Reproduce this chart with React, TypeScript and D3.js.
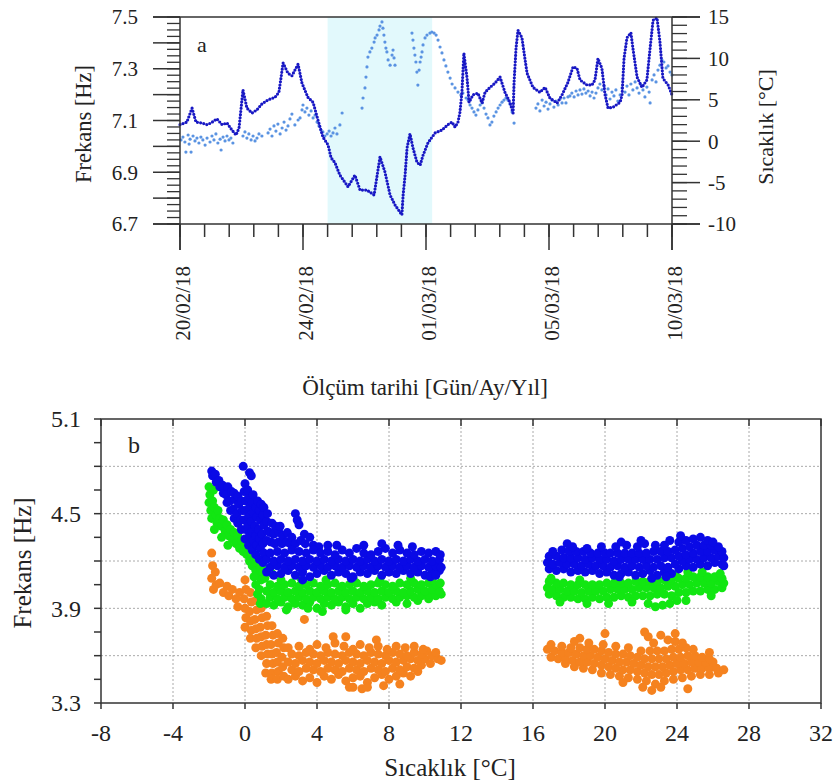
import React from "react";
import * as d3 from "d3";

// ---------- Panel (a): time series ----------
const dayTickPos = [0, 5, 10, 15, 20];
const dayTickLabels = ["20/02/18", "24/02/18", "01/03/18", "05/03/18", "10/03/18"];
const freqTickLabelsA = [6.7, 6.9, 7.1, 7.3, 7.5];
const tempTickLabelsA = [-10, -5, 0, 5, 10, 15];
const coldPeriod = [6.0, 10.25];

// temperature (°C, right axis) vs time position
const tempSeries: [number, number][] = [
  [0, 2.0], [0.28, 2.3], [0.49, 4.0], [0.65, 2.3], [0.89, 2.2], [1.1, 2.0], [1.26, 2.2], [1.5, 2.7], [1.71, 2.0], [1.91, 2.2],
  [2.11, 1.35], [2.28, 0.75], [2.4, 1.6], [2.56, 6.2], [2.72, 4.0], [2.93, 3.4], [3.13, 3.8], [3.33, 4.5], [3.58, 5.0], [3.86, 5.3],
  [4.02, 5.9], [4.11, 7.75], [4.19, 9.45], [4.39, 8.2], [4.55, 7.9], [4.8, 9.3], [4.96, 7.0], [5.2, 5.3], [5.41, 4.7], [5.61, 2.55],
  [5.81, 0.5], [6.02, -0.45], [6.14, -2.0], [6.3, -2.6], [6.5, -4.1], [6.83, -5.5], [7.11, -4.1], [7.32, -5.9], [7.6, -5.9], [7.89, -6.5],
  [8.13, -1.9], [8.33, -3.7], [8.54, -6.5], [8.74, -7.7], [9.02, -8.9], [9.07, -6.5], [9.15, -4.1], [9.23, -0.8], [9.35, 0.9], [9.47, -0.8],
  [9.63, -2.5], [9.76, -2.9], [9.88, -1.7], [10.08, -0.2], [10.37, 1.0], [10.65, 1.35], [10.89, 2.0], [11.06, 2.3], [11.18, 1.7], [11.3, 2.3],
  [11.38, 3.5], [11.46, 5.9], [11.54, 10.65], [11.67, 7.6], [11.75, 4.7], [11.91, 5.6], [12.11, 5.8], [12.28, 4.6], [12.4, 5.9], [12.6, 6.5],
  [12.8, 7.0], [13.01, 7.75], [13.21, 5.9], [13.41, 4.7], [13.54, 3.4], [13.58, 7.1], [13.66, 11.25], [13.74, 13.4], [13.9, 12.5], [14.02, 10.0],
  [14.11, 8.2], [14.35, 6.5], [14.63, 5.9], [14.84, 6.5], [15.04, 5.2], [15.33, 4.6], [15.53, 5.6], [15.77, 7.1], [15.98, 9.0], [16.14, 8.8],
  [16.26, 7.4], [16.54, 6.8], [16.75, 6.8], [16.87, 7.4], [16.99, 10.0], [17.15, 8.8], [17.28, 5.6], [17.4, 4.0], [17.6, 4.1], [17.89, 4.7],
  [17.97, 5.6], [18.05, 10.0], [18.17, 12.5], [18.33, 13.1], [18.41, 11.25], [18.58, 7.75], [18.78, 6.5], [18.98, 7.4], [19.11, 11.25], [19.23, 14.6],
  [19.39, 14.9], [19.51, 12.0], [19.63, 7.6], [19.84, 6.8], [20.0, 5.6],
];

// frequency (Hz, left axis) vs time position
const freqSeries: [number, number][] = [
  [0.04, 7.025], [0.12, 7.036], [0.2, 7.017], [0.24, 6.978], [0.33, 7.044], [0.37, 7.009], [0.41, 7.028], [0.45, 6.978], [0.53, 7.04], [0.61, 7.021],
  [0.69, 7.032], [0.77, 7.013], [0.85, 7.036], [0.93, 7.025], [1.02, 7.005], [1.1, 7.032], [1.22, 7.017], [1.3, 7.04], [1.38, 7.025], [1.46, 7.048],
  [1.54, 7.013], [1.63, 7.028], [1.67, 6.986], [1.75, 7.036], [1.83, 7.021], [1.91, 7.04], [1.99, 7.025], [2.07, 7.032], [2.15, 7.013],
  [2.56, 7.04], [2.64, 7.056], [2.72, 7.032], [2.8, 7.048], [2.89, 7.025], [2.97, 7.04], [3.05, 7.021], [3.13, 7.032], [3.21, 7.048], [3.33, 7.04],
  [3.58, 7.052], [3.66, 7.067], [3.74, 7.04], [3.82, 7.079], [3.9, 7.059], [3.98, 7.086], [4.07, 7.048], [4.15, 7.071], [4.23, 7.094], [4.31, 7.063],
  [4.39, 7.079], [4.47, 7.106], [4.55, 7.125], [4.67, 7.083], [4.8, 7.102], [4.88, 7.11], [4.96, 7.141], [5.0, 7.16], [5.08, 7.133], [5.16, 7.148],
  [5.24, 7.121], [5.33, 7.137], [5.41, 7.11], [5.49, 7.121], [5.57, 7.094], [5.65, 7.079], [5.73, 7.063], [5.81, 7.056], [5.89, 7.04], [5.98, 7.048],
  [6.06, 7.059], [6.14, 7.04], [6.22, 7.052], [6.3, 7.071], [6.38, 7.048], [6.5, 7.083], [6.59, 7.129],
  [7.4, 7.148], [7.44, 7.187], [7.52, 7.226], [7.56, 7.268], [7.6, 7.307], [7.64, 7.345], [7.72, 7.365], [7.8, 7.38], [7.89, 7.403], [7.93, 7.419],
  [8.01, 7.43], [8.09, 7.45], [8.13, 7.465], [8.21, 7.481], [8.25, 7.457], [8.29, 7.43], [8.33, 7.403], [8.37, 7.38], [8.41, 7.365], [8.46, 7.334],
  [8.54, 7.314], [8.62, 7.353], [8.66, 7.372], [8.7, 7.342], [8.74, 7.314],
  [9.43, 7.438], [9.47, 7.411], [9.51, 7.38], [9.55, 7.353], [9.59, 7.326], [9.63, 7.287], [9.67, 7.237], [9.72, 7.295], [9.76, 7.326], [9.8, 7.345],
  [9.84, 7.365], [9.88, 7.392], [9.96, 7.419], [10.04, 7.43], [10.16, 7.438], [10.24, 7.442], [10.33, 7.438], [10.41, 7.43], [10.49, 7.411], [10.57, 7.384],
  [10.65, 7.361], [10.73, 7.334], [10.81, 7.311], [10.89, 7.287], [10.98, 7.264], [11.06, 7.241], [11.18, 7.226], [11.3, 7.21], [11.42, 7.199], [11.5, 7.206],
  [11.63, 7.187], [11.71, 7.179], [11.79, 7.16], [11.87, 7.148], [11.95, 7.133], [12.03, 7.121], [12.11, 7.141], [12.2, 7.16], [12.28, 7.168], [12.36, 7.148],
  [12.44, 7.125], [12.52, 7.11], [12.6, 7.083], [12.68, 7.094], [12.76, 7.117], [12.85, 7.133], [12.93, 7.148], [13.01, 7.16], [13.09, 7.171], [13.17, 7.179],
  [13.25, 7.187], [13.33, 7.179], [13.41, 7.164], [13.5, 7.133], [13.58, 7.09],
  [14.47, 7.148], [14.55, 7.164], [14.63, 7.137], [14.72, 7.179], [14.8, 7.156], [14.88, 7.171], [14.96, 7.144], [15.04, 7.164], [15.12, 7.179], [15.2, 7.152],
  [15.28, 7.175], [15.37, 7.16], [15.45, 7.183], [15.53, 7.168], [15.61, 7.187], [15.69, 7.168], [15.77, 7.191],
  [15.85, 7.195], [15.93, 7.206], [16.02, 7.191], [16.1, 7.214], [16.18, 7.199], [16.26, 7.218], [16.34, 7.202], [16.42, 7.222], [16.5, 7.206], [16.59, 7.214],
  [16.67, 7.195], [16.75, 7.21], [16.83, 7.187],
  [16.91, 7.206], [16.99, 7.226], [17.07, 7.241], [17.15, 7.218], [17.24, 7.233], [17.32, 7.199], [17.4, 7.222], [17.48, 7.183], [17.56, 7.21], [17.64, 7.195],
  [17.72, 7.218], [17.8, 7.175], [17.89, 7.199], [17.97, 7.226],
  [18.09, 7.21], [18.17, 7.233], [18.25, 7.199], [18.33, 7.241], [18.41, 7.218], [18.5, 7.249], [18.58, 7.226], [18.66, 7.206], [18.74, 7.237], [18.82, 7.218],
  [18.9, 7.191], [18.98, 7.229], [19.07, 7.21], [19.11, 7.168],
  [19.19, 7.257], [19.27, 7.276], [19.35, 7.249], [19.43, 7.295], [19.51, 7.314], [19.59, 7.334], [19.67, 7.326], [19.76, 7.303], [19.84, 7.311], [19.92, 7.287], [20.0, 7.276],
];

// ---------- Panel (b): frequency vs temperature ----------
const tempTicksB = [-8, -4, 0, 4, 8, 12, 16, 20, 24, 28, 32];
const freqTickLabelsB = [3.3, 3.9, 4.5, 5.1];
const freqGridB = [3.6, 3.9, 4.2, 4.5, 4.8];

const mode1: [number, number][] = [
  [-1.85, 4.77], [-1.8, 4.74], [-1.6, 4.7], [-1.65, 4.75], [-1.4, 4.67], [-1.45, 4.71], [-1.2, 4.63], [-1.25, 4.68], [-1.0, 4.57], [-1.05, 4.62], [-0.95, 4.67],
  [-0.8, 4.52], [-0.85, 4.58], [-0.75, 4.64], [-0.6, 4.47], [-0.65, 4.53], [-0.55, 4.59], [-0.6, 4.63], [-0.4, 4.44], [-0.45, 4.5], [-0.35, 4.56], [-0.4, 4.61],
  [-0.2, 4.4], [-0.25, 4.46], [-0.15, 4.52], [-0.2, 4.58], [0.0, 4.34], [0.05, 4.4], [-0.05, 4.46], [0.0, 4.52], [0.05, 4.58], [-0.05, 4.64], [0.0, 4.69], [-0.1, 4.8],
  [0.2, 4.3], [0.25, 4.36], [0.15, 4.42], [0.2, 4.48], [0.25, 4.54], [0.2, 4.6], [0.15, 4.65], [0.25, 4.76], [0.35, 4.74],
  [0.4, 4.27], [0.45, 4.33], [0.4, 4.39], [0.35, 4.45], [0.45, 4.51], [0.4, 4.57], [0.45, 4.62],
  [0.6, 4.24], [0.65, 4.3], [0.6, 4.36], [0.55, 4.42], [0.65, 4.48], [0.6, 4.54], [0.7, 4.58],
  [0.8, 4.21], [0.85, 4.28], [0.8, 4.34], [0.75, 4.4], [0.85, 4.46], [0.8, 4.52], [0.9, 4.56],
  [1.0, 4.19], [1.05, 4.25], [1.0, 4.31], [0.95, 4.37], [1.05, 4.43], [1.0, 4.49], [1.05, 4.54],
  [1.2, 4.33], [1.25, 4.39], [1.2, 4.45], [1.25, 4.5], [1.45, 4.32], [1.4, 4.38], [1.5, 4.44], [1.65, 4.31], [1.6, 4.37], [1.7, 4.42],
  [1.85, 4.32], [1.9, 4.38], [1.95, 4.42], [2.05, 4.31], [2.1, 4.36], [2.3, 4.32], [2.35, 4.38], [2.5, 4.31], [2.6, 4.35], [2.8, 4.31], [2.8, 4.5],
  [2.9, 4.46], [3.0, 4.43], [3.1, 4.33], [3.3, 4.37], [3.35, 4.31], [3.6, 4.35], [3.8, 4.3], [4.1, 4.29],
  [1.2, 4.13], [1.6, 4.11], [2.0, 4.12], [2.4, 4.14], [2.8, 4.11], [3.2, 4.13], [3.6, 4.1], [4.0, 4.12], [4.4, 4.14], [4.8, 4.11], [5.2, 4.13], [5.6, 4.12],
  [6.0, 4.1], [6.4, 4.13], [6.8, 4.12], [7.2, 4.14], [7.6, 4.11], [8.0, 4.13], [8.4, 4.12], [8.8, 4.14], [9.2, 4.12], [9.6, 4.13], [10.0, 4.11], [10.4, 4.13], [10.8, 4.14],
  [1.4, 4.16], [1.8, 4.17], [2.2, 4.16], [2.6, 4.17], [3.0, 4.16], [3.4, 4.17], [3.8, 4.16], [4.2, 4.17], [4.6, 4.16], [5.0, 4.17], [5.4, 4.16], [5.8, 4.17],
  [6.2, 4.16], [6.6, 4.17], [7.0, 4.16], [7.4, 4.17], [7.8, 4.16], [8.2, 4.17], [8.6, 4.16], [9.0, 4.17], [9.4, 4.16], [9.8, 4.17], [10.2, 4.16], [10.6, 4.17], [10.9, 4.16],
  [1.2, 4.21], [1.6, 4.2], [2.0, 4.21], [2.4, 4.2], [2.8, 4.21], [3.2, 4.2], [3.6, 4.21], [4.0, 4.2], [4.4, 4.21], [4.8, 4.2], [5.2, 4.21], [5.6, 4.2],
  [6.0, 4.21], [6.4, 4.2], [6.8, 4.21], [7.2, 4.2], [7.6, 4.21], [8.0, 4.2], [8.4, 4.21], [8.8, 4.2], [9.2, 4.21], [9.6, 4.2], [10.0, 4.21], [10.4, 4.2], [10.8, 4.21],
  [1.4, 4.25], [1.8, 4.26], [2.2, 4.25], [2.6, 4.27], [3.0, 4.26], [3.4, 4.25], [3.8, 4.27], [4.2, 4.25], [4.6, 4.26], [5.0, 4.24], [5.4, 4.27], [5.8, 4.25],
  [6.2, 4.28], [6.6, 4.25], [7.0, 4.24], [7.4, 4.26], [7.8, 4.28], [8.2, 4.25], [8.6, 4.27], [9.0, 4.25], [9.4, 4.24], [9.8, 4.26], [10.2, 4.25], [10.6, 4.26], [10.85, 4.24],
  [5.1, 4.3], [6.6, 4.3], [7.6, 4.31], [8.5, 4.3], [9.3, 4.29], [4.6, 4.3], [3.2, 4.08], [5.9, 4.09], [10.3, 4.1], [10.6, 4.11],
  [16.9, 4.15], [17.3, 4.14], [17.7, 4.15], [18.1, 4.13], [18.5, 4.14], [18.9, 4.13], [19.3, 4.14], [19.7, 4.12], [20.1, 4.13], [20.5, 4.11], [20.9, 4.12], [21.3, 4.13],
  [21.7, 4.11], [22.1, 4.12], [22.5, 4.14], [22.9, 4.11], [23.3, 4.13], [23.7, 4.12], [24.1, 4.15], [24.5, 4.17], [24.9, 4.16], [25.3, 4.18], [25.7, 4.17], [26.1, 4.19], [26.5, 4.18],
  [16.8, 4.19], [17.1, 4.18], [17.5, 4.19], [17.9, 4.18], [18.3, 4.18], [18.7, 4.17], [19.1, 4.18], [19.5, 4.17], [19.9, 4.17], [20.3, 4.16], [20.7, 4.17], [21.1, 4.16],
  [21.5, 4.17], [21.9, 4.16], [22.3, 4.17], [22.7, 4.16], [23.1, 4.17], [23.5, 4.16], [23.9, 4.18], [24.3, 4.2], [24.7, 4.21], [25.1, 4.21], [25.5, 4.22], [25.9, 4.22], [26.3, 4.23], [26.6, 4.22],
  [16.9, 4.23], [17.3, 4.23], [17.7, 4.22], [18.1, 4.22], [18.5, 4.22], [18.9, 4.21], [19.3, 4.22], [19.7, 4.21], [20.1, 4.21], [20.5, 4.2], [20.9, 4.21], [21.3, 4.21],
  [21.7, 4.21], [22.1, 4.21], [22.5, 4.21], [22.9, 4.21], [23.3, 4.22], [23.7, 4.22], [24.1, 4.23], [24.5, 4.24], [24.9, 4.25], [25.3, 4.26], [25.7, 4.26], [26.1, 4.27], [26.5, 4.26],
  [17.1, 4.26], [17.6, 4.27], [18.0, 4.26], [18.4, 4.26], [18.8, 4.26], [19.2, 4.25], [19.6, 4.25], [20.0, 4.25], [20.3, 4.25], [20.7, 4.25], [21.1, 4.25], [21.5, 4.25],
  [21.9, 4.25], [22.3, 4.25], [22.7, 4.26], [23.1, 4.26], [23.5, 4.26], [23.9, 4.27], [24.3, 4.28], [24.7, 4.29], [25.1, 4.3], [25.5, 4.3], [25.9, 4.3], [26.3, 4.29],
  [18.2, 4.29], [19.0, 4.28], [19.8, 4.29], [20.6, 4.29], [21.2, 4.3], [21.8, 4.29], [22.2, 4.31], [22.8, 4.3], [23.3, 4.3], [23.6, 4.33], [24.1, 4.32], [24.5, 4.33],
  [24.9, 4.34], [25.3, 4.35], [25.7, 4.33], [24.2, 4.36], [22.0, 4.33], [20.9, 4.32], [17.9, 4.31], [26.0, 4.32],
  [20.8, 4.1], [22.6, 4.09], [23.4, 4.1], [26.6, 4.17],
];

const mode2: [number, number][] = [
  [-2.0, 4.67], [-1.95, 4.62], [-2.0, 4.57], [-1.9, 4.52], [-1.85, 4.47], [-1.75, 4.65], [-1.8, 4.58], [-1.7, 4.54], [-1.6, 4.49], [-1.55, 4.44], [-1.5, 4.52],
  [-1.4, 4.47], [-1.3, 4.42], [-1.2, 4.46], [-1.1, 4.39], [-1.0, 4.43], [-0.9, 4.36], [-0.8, 4.4], [-0.7, 4.34], [-0.6, 4.38], [-0.5, 4.31], [-0.4, 4.36],
  [-0.3, 4.28], [-0.2, 4.33], [-0.1, 4.26], [0.0, 4.3], [0.1, 4.24], [0.2, 4.28], [0.25, 4.2], [0.35, 4.24], [0.4, 4.17], [0.5, 4.21], [0.6, 4.14], [0.7, 4.19],
  [0.75, 4.11], [0.85, 4.16], [0.9, 4.08], [1.0, 4.13], [-1.7, 4.4], [-1.3, 4.35], [-0.95, 4.3],
  [0.6, 4.05], [0.7, 3.99], [0.8, 4.02], [0.9, 3.96], [0.5, 4.1], [0.85, 3.93],
  [1.2, 3.93], [1.6, 3.92], [2.0, 3.94], [2.4, 3.91], [2.8, 3.93], [3.2, 3.92], [3.6, 3.94], [4.0, 3.9], [4.4, 3.93], [4.8, 3.92], [5.2, 3.94], [5.6, 3.91],
  [6.0, 3.93], [6.4, 3.9], [6.8, 3.93], [7.2, 3.94], [7.6, 3.92], [8.4, 3.94], [9.0, 3.93], [9.6, 3.95], [10.2, 3.96],
  [1.4, 3.97], [1.8, 3.96], [2.2, 3.97], [2.6, 3.96], [3.0, 3.97], [3.4, 3.96], [3.8, 3.97], [4.2, 3.96], [4.6, 3.97], [5.0, 3.96], [5.4, 3.97], [5.8, 3.96],
  [6.2, 3.97], [6.6, 3.96], [7.0, 3.97], [7.4, 3.96], [7.8, 3.97], [8.2, 3.96], [8.6, 3.97], [9.0, 3.98], [9.4, 3.97], [9.8, 3.98], [10.2, 3.99], [10.6, 3.98], [10.9, 3.99],
  [1.2, 4.01], [1.6, 4.0], [2.0, 4.01], [2.4, 4.0], [2.8, 4.01], [3.2, 4.0], [3.6, 4.01], [4.0, 4.0], [4.4, 4.01], [4.8, 4.0], [5.2, 4.01], [5.6, 4.0],
  [6.0, 4.01], [6.4, 4.0], [6.8, 4.01], [7.2, 4.0], [7.6, 4.01], [8.0, 4.0], [8.4, 4.01], [8.8, 4.0], [9.2, 4.01], [9.6, 4.02], [10.0, 4.01], [10.4, 4.02], [10.8, 4.01],
  [1.4, 4.05], [1.8, 4.04], [2.2, 4.05], [2.6, 4.06], [3.0, 4.04], [3.4, 4.05], [3.8, 4.06], [4.2, 4.04], [4.6, 4.05], [5.0, 4.06], [5.4, 4.04], [5.8, 4.05],
  [6.2, 4.06], [6.6, 4.04], [7.0, 4.05], [7.4, 4.06], [7.8, 4.05], [8.2, 4.04], [8.6, 4.06], [9.0, 4.05], [9.4, 4.06], [9.8, 4.05], [10.2, 4.06], [10.6, 4.05], [10.85, 4.06],
  [1.1, 4.09], [2.0, 4.08], [3.1, 4.09], [4.5, 4.08], [6.0, 4.09], [7.5, 4.08], [9.2, 4.09], [10.4, 4.08], [1.5, 4.12], [1.2, 4.15],
  [2.3, 3.89], [4.3, 3.88], [5.6, 3.89], [3.5, 3.9],
  [16.9, 3.99], [17.3, 3.98], [17.7, 3.97], [18.1, 3.97], [18.5, 3.96], [18.9, 3.96], [19.3, 3.97], [19.7, 3.96], [20.1, 3.97], [20.5, 3.97], [20.9, 3.98], [21.3, 3.97],
  [21.7, 3.98], [22.1, 3.98], [22.5, 3.98], [22.9, 3.99], [23.3, 3.99], [23.7, 3.98], [24.1, 4.0], [24.5, 4.0], [24.9, 4.01], [25.3, 4.01], [25.7, 4.02], [26.1, 4.02], [26.5, 4.03],
  [16.8, 4.03], [17.1, 4.02], [17.5, 4.02], [17.9, 4.01], [18.3, 4.01], [18.7, 4.0], [19.1, 4.01], [19.5, 4.01], [19.9, 4.01], [20.3, 4.02], [20.7, 4.02], [21.1, 4.02],
  [21.5, 4.02], [21.9, 4.03], [22.3, 4.03], [22.7, 4.03], [23.1, 4.03], [23.5, 4.04], [23.9, 4.04], [24.3, 4.05], [24.7, 4.05], [25.1, 4.06], [25.5, 4.06], [25.9, 4.06], [26.3, 4.07], [26.6, 4.06],
  [16.9, 4.07], [17.3, 4.06], [17.7, 4.06], [18.1, 4.05], [18.5, 4.05], [18.9, 4.05], [19.3, 4.05], [19.7, 4.05], [20.1, 4.06], [20.5, 4.06], [20.9, 4.06], [21.3, 4.06],
  [21.7, 4.07], [22.1, 4.07], [22.5, 4.07], [22.9, 4.07], [23.3, 4.08], [23.7, 4.08], [24.1, 4.09], [24.5, 4.09], [24.9, 4.1], [25.3, 4.1], [25.7, 4.1], [26.1, 4.1], [26.5, 4.09],
  [17.5, 3.94], [19.0, 3.93], [20.2, 3.93], [21.5, 3.94], [22.4, 3.93], [23.2, 3.92], [23.6, 3.93], [22.8, 3.91], [24.5, 3.95], [24.6, 4.13], [25.4, 4.13], [23.9, 4.11],
  [20.6, 4.09], [18.6, 4.08], [26.4, 4.12], [17.0, 4.09], [25.9, 3.98], [24.0, 3.95],
];

const mode3: [number, number][] = [
  [-1.85, 4.25], [-1.8, 4.17], [-1.85, 4.09], [-1.75, 4.02], [-1.65, 4.13], [-1.6, 4.05],
  [-1.4, 4.06], [-1.2, 4.0], [-1.0, 4.04], [-0.9, 3.98], [-0.7, 4.02], [-0.5, 3.96], [-0.4, 3.91], [-0.3, 4.0],
  [0.0, 4.08], [0.05, 4.02], [-0.05, 3.96], [0.0, 3.9], [0.05, 3.84], [0.0, 3.78],
  [0.3, 4.0], [0.35, 3.94], [0.25, 3.88], [0.3, 3.82], [0.35, 3.76], [0.3, 3.71],
  [0.6, 3.95], [0.65, 3.89], [0.55, 3.83], [0.6, 3.77], [0.65, 3.71], [0.6, 3.65],
  [0.9, 3.9], [0.95, 3.84], [0.85, 3.78], [0.9, 3.72], [0.95, 3.66], [0.9, 3.6],
  [1.2, 3.85], [1.25, 3.79], [1.15, 3.73], [1.2, 3.67], [1.25, 3.61], [1.2, 3.55], [1.15, 3.49],
  [1.5, 3.79], [1.55, 3.73], [1.45, 3.67], [1.5, 3.61], [1.55, 3.55], [1.5, 3.49], [1.45, 3.45],
  [1.8, 3.74], [1.85, 3.68], [1.75, 3.62], [1.8, 3.56], [1.85, 3.5], [1.8, 3.45],
  [2.1, 3.71], [2.15, 3.65], [2.05, 3.59], [2.1, 3.53], [2.15, 3.47],
  [2.4, 3.45], [2.8, 3.47], [3.2, 3.44], [3.6, 3.46], [4.0, 3.43], [4.4, 3.47], [4.8, 3.45], [5.2, 3.48], [5.6, 3.44], [6.0, 3.46], [6.4, 3.47], [6.8, 3.43],
  [7.2, 3.46], [7.6, 3.48], [8.0, 3.45], [8.4, 3.47], [8.8, 3.49], [9.2, 3.47], [9.6, 3.5],
  [2.6, 3.51], [3.0, 3.5], [3.4, 3.52], [3.8, 3.51], [4.2, 3.5], [4.6, 3.52], [5.0, 3.51], [5.4, 3.5], [5.8, 3.52], [6.2, 3.51], [6.6, 3.5], [7.0, 3.52],
  [7.4, 3.51], [7.8, 3.5], [8.2, 3.52], [8.6, 3.51], [9.0, 3.53], [9.4, 3.52], [9.8, 3.54],
  [2.4, 3.56], [2.8, 3.55], [3.2, 3.57], [3.6, 3.56], [4.0, 3.55], [4.4, 3.57], [4.8, 3.56], [5.2, 3.55], [5.6, 3.57], [6.0, 3.56], [6.4, 3.55], [6.8, 3.57],
  [7.2, 3.56], [7.6, 3.55], [8.0, 3.57], [8.4, 3.56], [8.8, 3.57], [9.2, 3.58], [9.6, 3.57], [10.0, 3.58],
  [2.6, 3.61], [3.0, 3.6], [3.4, 3.62], [3.8, 3.61], [4.2, 3.6], [4.6, 3.62], [5.0, 3.61], [5.4, 3.6], [5.8, 3.62], [6.2, 3.61], [6.6, 3.6], [7.0, 3.62],
  [7.4, 3.61], [7.8, 3.6], [8.2, 3.62], [8.6, 3.61], [9.0, 3.6], [9.4, 3.62], [9.8, 3.61],
  [2.4, 3.65], [3.0, 3.66], [3.6, 3.64], [4.0, 3.67], [4.5, 3.65], [5.0, 3.68], [5.5, 3.66], [6.0, 3.64], [6.4, 3.67], [6.9, 3.65], [7.4, 3.66], [7.9, 3.64],
  [8.4, 3.66], [8.9, 3.65], [9.4, 3.66],
  [3.3, 3.83], [4.9, 3.72], [5.6, 3.72], [7.3, 3.7], [5.8, 3.4], [6.5, 3.39], [7.7, 3.41], [8.6, 3.42], [10.1, 3.63], [10.4, 3.6], [10.7, 3.58], [10.6, 3.62],
  [10.9, 3.57], [9.9, 3.64], [10.3, 3.55], [6.0, 3.4], [6.8, 3.4],
  [17.8, 3.55], [18.3, 3.53], [18.8, 3.52], [19.3, 3.51], [19.8, 3.49], [20.3, 3.48], [20.8, 3.47], [21.3, 3.46], [21.8, 3.45], [22.3, 3.44], [22.8, 3.42], [23.3, 3.44],
  [23.8, 3.45], [24.3, 3.46], [24.8, 3.47], [25.3, 3.48], [25.8, 3.48], [26.3, 3.49],
  [17.0, 3.59], [17.4, 3.58], [17.8, 3.58], [18.2, 3.57], [18.6, 3.56], [19.0, 3.56], [19.4, 3.55], [19.8, 3.54], [20.2, 3.53], [20.6, 3.52], [21.0, 3.51], [21.4, 3.51],
  [21.8, 3.5], [22.2, 3.49], [22.6, 3.48], [23.0, 3.48], [23.4, 3.49], [23.8, 3.5], [24.2, 3.51], [24.6, 3.51], [25.0, 3.52], [25.4, 3.52], [25.8, 3.52], [26.2, 3.52], [26.6, 3.51],
  [16.8, 3.64], [17.2, 3.63], [17.6, 3.62], [18.0, 3.62], [18.4, 3.61], [18.8, 3.6], [19.2, 3.6], [19.6, 3.59], [20.0, 3.58], [20.4, 3.57], [20.8, 3.56], [21.2, 3.56],
  [21.6, 3.55], [22.0, 3.54], [22.4, 3.53], [22.8, 3.53], [23.2, 3.53], [23.6, 3.54], [24.0, 3.55], [24.4, 3.55], [24.8, 3.56], [25.2, 3.56], [25.6, 3.56], [26.0, 3.56],
  [17.0, 3.67], [17.6, 3.66], [18.1, 3.65], [18.6, 3.65], [19.0, 3.64], [19.4, 3.64], [19.8, 3.63], [20.2, 3.62], [20.6, 3.61], [21.0, 3.61], [21.4, 3.6], [21.8, 3.59],
  [22.2, 3.58], [22.6, 3.58], [23.0, 3.58], [23.4, 3.58], [23.8, 3.59], [24.2, 3.59], [24.6, 3.6], [25.0, 3.6], [25.4, 3.59], [25.8, 3.58],
  [18.3, 3.69], [19.1, 3.68], [19.9, 3.67], [20.6, 3.66], [21.3, 3.65], [22.0, 3.63], [22.5, 3.63], [22.9, 3.63], [23.3, 3.63], [23.7, 3.64], [24.1, 3.64], [24.5, 3.65],
  [22.7, 3.68], [23.5, 3.7], [23.9, 3.69], [24.3, 3.68], [22.4, 3.72], [23.1, 3.73],
  [20.0, 3.74], [22.2, 3.75], [23.9, 3.74], [18.6, 3.71], [24.6, 3.39], [22.1, 3.4], [22.6, 3.38], [23.1, 3.4], [21.0, 3.43], [25.8, 3.62], [24.9, 3.64],
];

const FONT = "Liberation Serif, serif";
const TXT = "#222";
const AX = "#333";

export default function App() {
  const xA = d3.scaleLinear().domain([0, 20]).range([180, 672]);
  const yF = d3.scaleLinear().domain([6.7, 7.5]).range([224, 17]);
  const yT = d3.scaleLinear().domain([-10, 15]).range([224, 17]);
  const xB = d3.scaleLinear().domain([-8, 32]).range([101, 821]);
  const yB = d3.scaleLinear().domain([3.3, 5.1]).range([703, 419]);

  const tempLine = d3.line<[number, number]>().x((d) => xA(d[0])).y((d) => yT(d[1]));

  const minorF = d3.range(0, 33).map((i) => 6.7 + i * 0.025);
  const majorF = d3.range(0, 9).map((i) => 6.7 + i * 0.1);
  const minorT = d3.range(-10, 16);
  const majorT = tempTickLabelsA;
  const minorX = d3.range(0, 21);
  const ticksB = d3.range(0, 13).map((i) => 3.3 + i * 0.15);

  const series = [
    { data: mode3, color: "#f5821f" },
    { data: mode2, color: "#12e612" },
    { data: mode1, color: "#0a0ae6" },
  ];

  const tStyle = { fontFamily: FONT };

  return (
    <svg width={837} height={782} style={{ position: "absolute", left: 0, top: 0, background: "#fff" }}>
      {/* ===== Panel a ===== */}
      <rect x={xA(coldPeriod[0])} y={17} width={xA(coldPeriod[1]) - xA(coldPeriod[0])} height={207} fill="#e2f9fc" />
      {freqSeries.map((d, i) => (
        <circle key={"f" + i} cx={xA(d[0])} cy={yF(d[1])} r={1.6} fill="#5a93e2" />
      ))}
      <path d={tempLine(tempSeries) || ""} fill="none" stroke="#1818c4" strokeWidth={3.2} strokeLinecap="round" strokeDasharray="0 3.2" />
      <line x1={153} x2={700} y1={17} y2={17} stroke={AX} strokeWidth={1.5} />
      <line x1={153} x2={700} y1={224} y2={224} stroke={AX} strokeWidth={1.5} />
      <line x1={180} x2={180} y1={17} y2={250} stroke={AX} strokeWidth={1.5} />
      <line x1={672} x2={672} y1={17} y2={250} stroke={AX} strokeWidth={1.5} />
      {minorF.map((v, i) => (
        <line key={"mf" + i} x1={167} x2={180} y1={yF(v)} y2={yF(v)} stroke={AX} strokeWidth={1.3} />
      ))}
      {majorF.map((v, i) => (
        <line key={"Mf" + i} x1={153} x2={180} y1={yF(v)} y2={yF(v)} stroke={AX} strokeWidth={1.5} />
      ))}
      {minorT.map((v, i) => (
        <line key={"mt" + i} x1={672} x2={687} y1={yT(v)} y2={yT(v)} stroke={AX} strokeWidth={1.3} />
      ))}
      {majorT.map((v, i) => (
        <line key={"Mt" + i} x1={672} x2={700} y1={yT(v)} y2={yT(v)} stroke={AX} strokeWidth={1.5} />
      ))}
      {minorX.map((v, i) => (
        <line key={"mx" + i} x1={xA(v)} x2={xA(v)} y1={224} y2={237} stroke={AX} strokeWidth={1.5} />
      ))}
      {dayTickPos.map((v, i) => (
        <line key={"Mx" + i} x1={xA(v)} x2={xA(v)} y1={224} y2={250} stroke={AX} strokeWidth={1.5} />
      ))}
      {freqTickLabelsA.map((v) => (
        <text key={"lf" + v} x={138} y={yF(v)} dy="0.35em" textAnchor="end" fontSize={21} fill={TXT} style={tStyle}>
          {v.toFixed(1)}
        </text>
      ))}
      {tempTickLabelsA.map((v) => (
        <text key={"lt" + v} x={708} y={yT(v)} dy="0.35em" textAnchor="start" fontSize={21} fill={TXT} style={tStyle}>
          {v}
        </text>
      ))}
      {dayTickPos.map((v, i) => (
        <text key={"lx" + i} transform={`translate(${xA(v) + 3},266) rotate(-90)`} dy="0.35em" textAnchor="end" fontSize={21} fill={TXT} style={tStyle}>
          {dayTickLabels[i]}
        </text>
      ))}
      <text transform="translate(83,124) rotate(-90)" dy="0.35em" textAnchor="middle" fontSize={22.5} fill={TXT} style={tStyle}>
        Frekans [Hz]
      </text>
      <text transform="translate(765,127) rotate(-90)" dy="0.35em" textAnchor="middle" fontSize={22} fill={TXT} style={tStyle}>
        Sıcaklık [°C]
      </text>
      <text x={197} y={52} fontSize={22} fill={TXT} style={tStyle}>a</text>
      <text x={425} y={395} textAnchor="middle" fontSize={23} fill={TXT} style={tStyle}>
        Ölçüm tarihi [Gün/Ay/Yıl]
      </text>

      {/* ===== Panel b ===== */}
      {tempTicksB.slice(1, -1).map((v) => (
        <line key={"gx" + v} x1={xB(v)} x2={xB(v)} y1={419} y2={703} stroke="#aaa" strokeWidth={1} strokeDasharray="2,2" />
      ))}
      {freqGridB.map((v) => (
        <line key={"gy" + v} x1={101} x2={821} y1={yB(v)} y2={yB(v)} stroke="#aaa" strokeWidth={1} strokeDasharray="2,2" />
      ))}
      {series.map((s, si) =>
        s.data.map((d, i) => <circle key={si + "-" + i} cx={xB(d[0])} cy={yB(d[1])} r={4.5} fill={s.color} />)
      )}
      <rect x={101} y={419} width={720} height={284} fill="none" stroke={AX} strokeWidth={1.5} />
      {ticksB.map((v, i) => (
        <line key={"tb" + i} x1={94} x2={101} y1={yB(v)} y2={yB(v)} stroke={AX} strokeWidth={1.5} />
      ))}
      {tempTicksB.map((v) => (
        <g key={"tx" + v}>
          <line x1={xB(v)} x2={xB(v)} y1={419} y2={426} stroke={AX} strokeWidth={1.5} />
          <line x1={xB(v)} x2={xB(v)} y1={703} y2={709} stroke={AX} strokeWidth={1.5} />
        </g>
      ))}
      {freqTickLabelsB.map((v) => (
        <text key={"lb" + v} x={81} y={yB(v)} dy="0.35em" textAnchor="end" fontSize={24} fill={TXT} style={tStyle}>
          {v.toFixed(1)}
        </text>
      ))}
      {tempTicksB.map((v) => (
        <text key={"lbx" + v} x={xB(v)} y={741} textAnchor="middle" fontSize={24} fill={TXT} style={tStyle}>
          {v}
        </text>
      ))}
      <text transform="translate(22,563) rotate(-90)" dy="0.35em" textAnchor="middle" fontSize={25} fill={TXT} style={tStyle}>
        Frekans [Hz]
      </text>
      <text x={450} y={776} textAnchor="middle" fontSize={25} fill={TXT} style={tStyle}>
        Sıcaklık [°C]
      </text>
      <text x={128} y={453} fontSize={24} fill={TXT} style={tStyle}>b</text>
    </svg>
  );
}
